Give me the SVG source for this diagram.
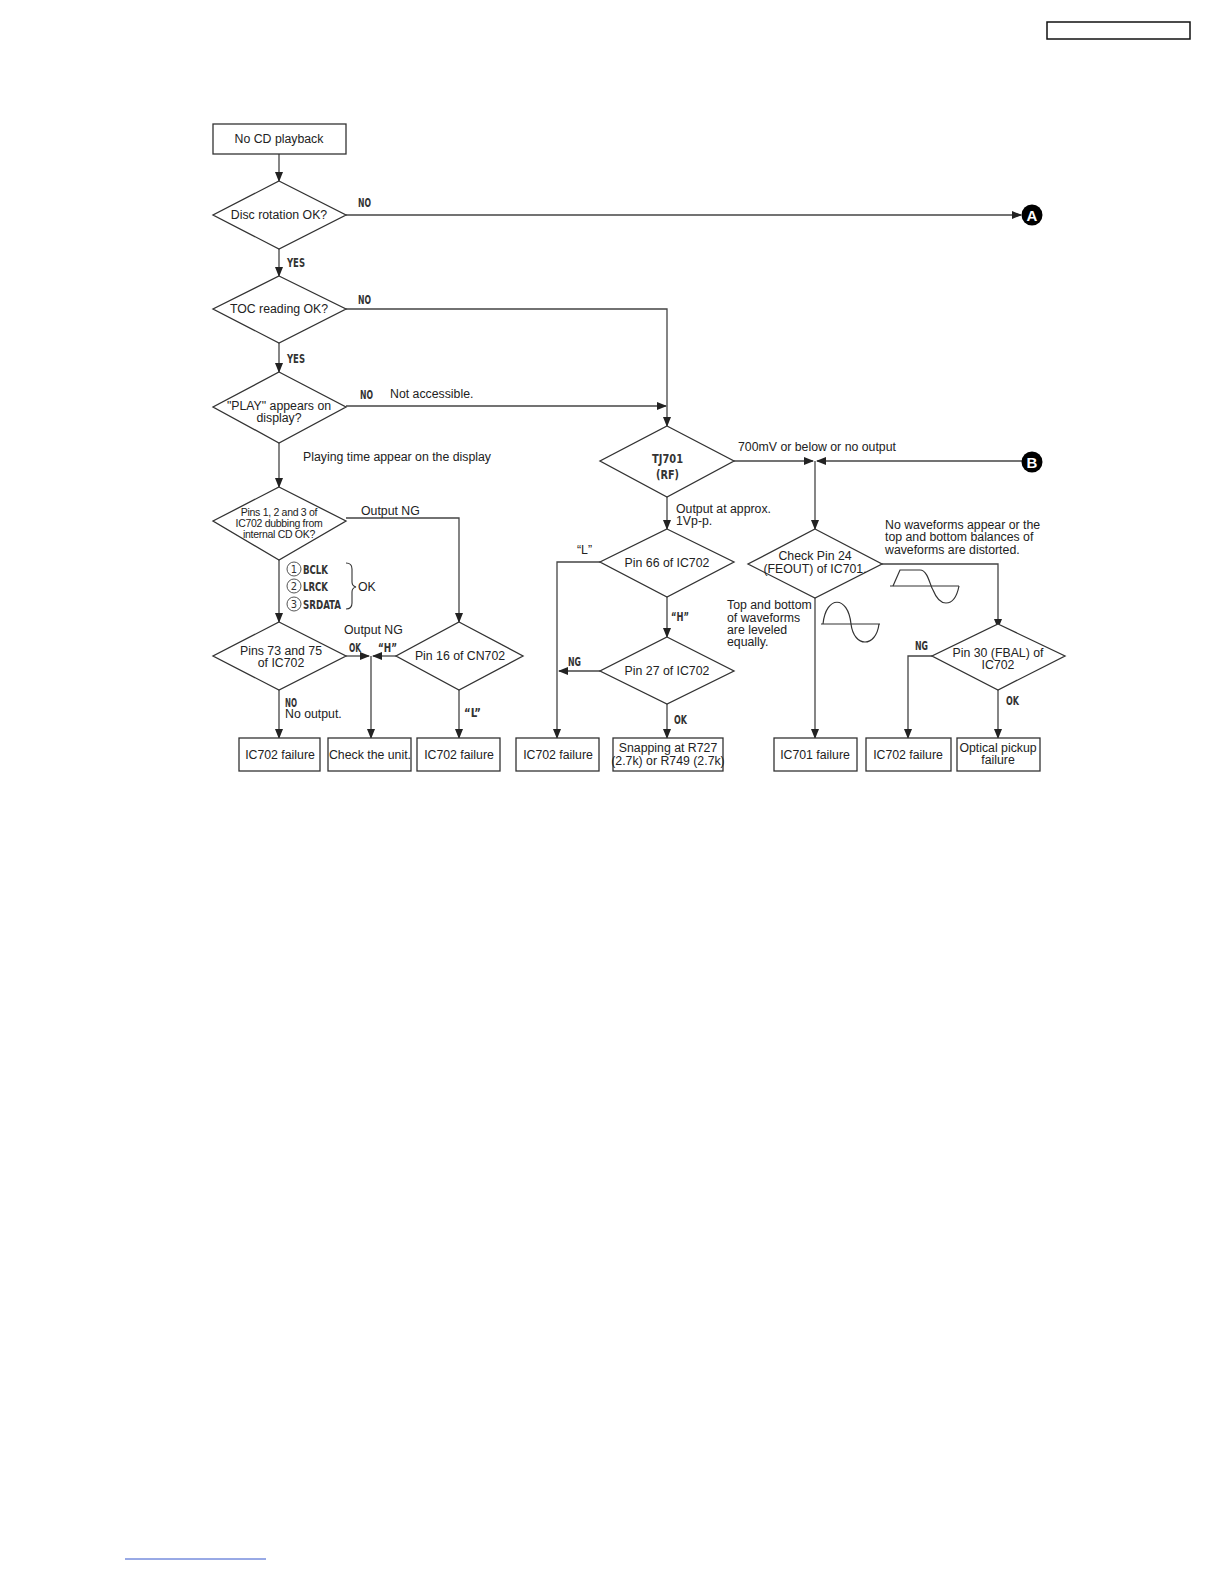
<svg xmlns="http://www.w3.org/2000/svg" width="1224" height="1584" viewBox="0 0 1224 1584">
<defs>
<marker id="ah" markerWidth="10" markerHeight="8" refX="9" refY="4" orient="auto" markerUnits="userSpaceOnUse">
<path d="M0,0 L10,4 L0,8 Z" fill="#222"/>
</marker>
<style>
.box{fill:#fff;stroke:#333;stroke-width:1.3}
.dia{fill:#fff;stroke:#333;stroke-width:1.3}
.ln{fill:none;stroke:#444;stroke-width:1.3}
.t{font-family:"Liberation Sans",Arial,sans-serif;font-size:12.3px;fill:#222;text-anchor:middle}
.tl{font-family:"Liberation Sans",Arial,sans-serif;font-size:12.3px;fill:#222}
.ts{font-family:"Liberation Sans",Arial,sans-serif;font-size:10.5px;fill:#222;text-anchor:middle;letter-spacing:-0.3px}
.c{font-family:"DejaVu Sans Condensed","DejaVu Sans",sans-serif;font-size:13px;font-weight:bold;fill:#333}
.cm{font-family:"DejaVu Sans Condensed","DejaVu Sans",sans-serif;font-size:11px;fill:#333;text-anchor:middle}
.wv{fill:none;stroke:#333;stroke-width:1.2}
</style>
</defs>
<rect x="1047" y="22" width="143" height="17" fill="none" stroke="#111" stroke-width="1.5"/>
<line x1="125" y1="1559" x2="266" y2="1559" stroke="#3355cc" stroke-width="1"/>

<g id="connectors">
<line class="ln" x1="279" y1="154" x2="279" y2="181" marker-end="url(#ah)"/>
<line class="ln" x1="346" y1="215" x2="1021" y2="215" marker-end="url(#ah)"/>
<line class="ln" x1="279" y1="249" x2="279" y2="276" marker-end="url(#ah)"/>
<polyline class="ln" points="346,309 667,309 667,426" marker-end="url(#ah)"/>
<line class="ln" x1="279" y1="343" x2="279" y2="372" marker-end="url(#ah)"/>
<line class="ln" x1="346" y1="406" x2="666" y2="406" marker-end="url(#ah)"/>
<line class="ln" x1="279" y1="443" x2="279" y2="487" marker-end="url(#ah)"/>
<polyline class="ln" points="346,518 459,518 459,622" marker-end="url(#ah)"/>
<line class="ln" x1="279" y1="560" x2="279" y2="622" marker-end="url(#ah)"/>
<line class="ln" x1="346" y1="656" x2="369" y2="656" marker-end="url(#ah)"/>
<line class="ln" x1="396" y1="656" x2="373" y2="656" marker-end="url(#ah)"/>
<line class="ln" x1="371" y1="656" x2="371" y2="738" marker-end="url(#ah)"/>
<line class="ln" x1="279" y1="690" x2="279" y2="738" marker-end="url(#ah)"/>
<line class="ln" x1="459" y1="690" x2="459" y2="738" marker-end="url(#ah)"/>
<line class="ln" x1="734" y1="461" x2="813" y2="461" marker-end="url(#ah)"/>
<line class="ln" x1="1022" y1="461" x2="817" y2="461" marker-end="url(#ah)"/>
<line class="ln" x1="815" y1="461" x2="815" y2="529" marker-end="url(#ah)"/>
<line class="ln" x1="667" y1="497" x2="667" y2="529" marker-end="url(#ah)"/>
<polyline class="ln" points="600,562 557,562 557,738" marker-end="url(#ah)"/>
<line class="ln" x1="667" y1="597" x2="667" y2="637" marker-end="url(#ah)"/>
<line class="ln" x1="600" y1="671" x2="559" y2="671" marker-end="url(#ah)"/>
<line class="ln" x1="667" y1="704" x2="667" y2="738" marker-end="url(#ah)"/>
<polyline class="ln" points="882,564 998,564 998,628" marker-end="url(#ah)"/>
<line class="ln" x1="815" y1="598" x2="815" y2="738" marker-end="url(#ah)"/>
<polyline class="ln" points="932,656 908,656 908,738" marker-end="url(#ah)"/>
<line class="ln" x1="998" y1="690" x2="998" y2="738" marker-end="url(#ah)"/>
</g>

<g id="labels">
<text class="c" x="358" y="207" textLength="13" lengthAdjust="spacingAndGlyphs">NO</text>
<text class="c" x="287" y="267" textLength="18" lengthAdjust="spacingAndGlyphs">YES</text>
<text class="c" x="358" y="304" textLength="13" lengthAdjust="spacingAndGlyphs">NO</text>
<text class="c" x="287" y="363" textLength="18" lengthAdjust="spacingAndGlyphs">YES</text>
<text class="c" x="360" y="399" textLength="13" lengthAdjust="spacingAndGlyphs">NO</text>
<text class="tl" x="390" y="398">Not accessible.</text>
<text class="tl" x="303" y="461">Playing time appear on the display</text>
<text class="tl" x="361" y="515">Output NG</text>
<text class="tl" x="344" y="634">Output NG</text>
<text class="c" x="349" y="652" textLength="12" lengthAdjust="spacingAndGlyphs">OK</text>
<text class="c" x="378" y="652" textLength="19" lengthAdjust="spacingAndGlyphs">“H”</text>
<text class="c" x="285" y="707" textLength="12" lengthAdjust="spacingAndGlyphs">NO</text>
<text class="tl" x="285" y="718">No output.</text>
<text class="c" x="464" y="717" textLength="17" lengthAdjust="spacingAndGlyphs">“L”</text>
<text class="tl" x="738" y="451">700mV or below or no output</text>
<text class="tl" x="676" y="513">Output at approx.</text>
<text class="tl" x="676" y="525">1Vp-p.</text>
<text class="tl" x="577" y="554">“L”</text>
<text class="c" x="671" y="621" textLength="18" lengthAdjust="spacingAndGlyphs">“H”</text>
<text class="c" x="568" y="666" textLength="13" lengthAdjust="spacingAndGlyphs">NG</text>
<text class="c" x="674" y="724" textLength="13" lengthAdjust="spacingAndGlyphs">OK</text>
<text class="tl" x="885" y="529">No waveforms appear or the</text>
<text class="tl" x="885" y="541">top and bottom balances of</text>
<text class="tl" x="885" y="554">waveforms are distorted.</text>
<text class="tl" x="727" y="609">Top and bottom</text>
<text class="tl" x="727" y="622">of waveforms</text>
<text class="tl" x="727" y="634">are leveled</text>
<text class="tl" x="727" y="646">equally.</text>
<text class="c" x="915" y="650" textLength="13" lengthAdjust="spacingAndGlyphs">NG</text>
<text class="c" x="1006" y="705" textLength="13" lengthAdjust="spacingAndGlyphs">OK</text>
</g>

<g id="signals">
<circle cx="294" cy="569" r="7" fill="none" stroke="#555" stroke-width="1"/>
<text class="cm" x="294" y="573">1</text>
<text class="c" x="303" y="574" textLength="25" lengthAdjust="spacingAndGlyphs">BCLK</text>
<circle cx="294" cy="586" r="7" fill="none" stroke="#555" stroke-width="1"/>
<text class="cm" x="294" y="590">2</text>
<text class="c" x="303" y="591" textLength="25" lengthAdjust="spacingAndGlyphs">LRCK</text>
<circle cx="294" cy="604" r="7" fill="none" stroke="#555" stroke-width="1"/>
<text class="cm" x="294" y="608">3</text>
<text class="c" x="303" y="609" textLength="38" lengthAdjust="spacingAndGlyphs">SRDATA</text>
<path d="M346,563 Q352,563 352,569 L352,582 Q352,586 356,587 Q352,588 352,592 L352,603 Q352,609 346,609" fill="none" stroke="#333" stroke-width="1.1"/>
<text class="tl" x="358" y="591">OK</text>
</g>

<g id="waves">
<line class="wv" x1="890" y1="586" x2="959" y2="586"/>
<path class="wv" d="M893,586 L900,570 L920,570 C928,570 930,586 933,590 C937,600 942,603 946,603 C953,603 957,596 959,586"/>
<line class="wv" x1="821" y1="624" x2="880" y2="624"/>
<path class="wv" d="M823,624 C826,595 848,595 851,624 C854,648 876,648 879,624"/>
</g>

<g id="start"><rect class="box" x="213" y="124" width="133" height="30"/><text class="t" x="279" y="143">No CD playback</text></g>

<g id="d_disc"><polygon class="dia" points="279,181 346,215 279,249 213,215"/><text class="t" x="279" y="219">Disc rotation OK?</text></g>
<g id="d_toc"><polygon class="dia" points="279,276 346,309 279,343 213,309"/><text class="t" x="279" y="313">TOC reading OK?</text></g>
<g id="d_play"><polygon class="dia" points="279,372 346,407 279,443 213,407"/><text class="t" x="279" y="410">"PLAY" appears on</text><text class="t" x="279" y="422">display?</text></g>
<g id="d_pins123"><polygon class="dia" points="279,487 346,521 279,560 213,521"/><text class="ts" x="279" y="516">Pins 1, 2 and 3 of</text><text class="ts" x="279" y="527">IC702 dubbing from</text><text class="ts" x="279" y="538">internal CD OK?</text></g>
<g id="d_pins7375"><polygon class="dia" points="279,622 346,656 279,690 213,656"/><text class="t" x="281" y="655">Pins 73 and 75</text><text class="t" x="281" y="667">of IC702</text></g>
<g id="d_pin16"><polygon class="dia" points="459,622 523,656 459,690 396,656"/><text class="t" x="460" y="660">Pin 16 of CN702</text></g>

<g id="b_ic702a"><rect class="box" x="239" y="738" width="81" height="33"/><text class="t" x="280" y="759">IC702 failure</text></g>
<g id="b_check"><rect class="box" x="328" y="738" width="83" height="33"/><text class="t" x="370" y="759">Check the unit.</text></g>
<g id="b_ic702b"><rect class="box" x="417" y="738" width="83" height="33"/><text class="t" x="459" y="759">IC702 failure</text></g>

<g id="d_tj701"><polygon class="dia" points="667,426 734,461 667,497 600,461"/><text class="c" x="652" y="463" textLength="31" lengthAdjust="spacingAndGlyphs">TJ701</text><text class="c" x="656" y="479" textLength="23" lengthAdjust="spacingAndGlyphs">(RF)</text></g>
<g id="d_pin66"><polygon class="dia" points="667,529 734,562 667,597 600,562"/><text class="t" x="667" y="567">Pin 66 of IC702</text></g>
<g id="d_pin27"><polygon class="dia" points="667,637 734,671 667,704 600,671"/><text class="t" x="667" y="675">Pin 27 of IC702</text></g>
<g id="b_ic702c"><rect class="box" x="516" y="738" width="83" height="33"/><text class="t" x="558" y="759">IC702 failure</text></g>
<g id="b_snap"><rect class="box" x="613" y="738" width="110" height="33"/><text class="t" x="668" y="752">Snapping at R727</text><text class="t" x="668" y="765">(2.7k) or R749 (2.7k)</text></g>

<g id="d_pin24"><polygon class="dia" points="815,529 882,564 815,598 748,564"/><text class="t" x="815" y="560">Check Pin 24</text><text class="t" x="815" y="573">(FEOUT) of IC701.</text></g>
<g id="d_pin30"><polygon class="dia" points="998,624 1065,656 998,690 932,656"/><text class="t" x="998" y="657">Pin 30 (FBAL) of</text><text class="t" x="998" y="669">IC702</text></g>
<g id="b_ic701"><rect class="box" x="774" y="738" width="83" height="33"/><text class="t" x="815" y="759">IC701 failure</text></g>
<g id="b_ic702d"><rect class="box" x="866" y="738" width="85" height="33"/><text class="t" x="908" y="759">IC702 failure</text></g>
<g id="b_optical"><rect class="box" x="957" y="738" width="83" height="33"/><text class="t" x="998" y="752">Optical pickup</text><text class="t" x="998" y="764">failure</text></g>

<g id="conn_A"><circle cx="1032" cy="215" r="10.5" fill="#000"/><text x="1032" y="220.5" font-family="Liberation Sans,Arial,sans-serif" font-weight="bold" font-size="15" fill="#fff" text-anchor="middle">A</text></g>
<g id="conn_B"><circle cx="1032" cy="462" r="10.5" fill="#000"/><text x="1032" y="467.5" font-family="Liberation Sans,Arial,sans-serif" font-weight="bold" font-size="15" fill="#fff" text-anchor="middle">B</text></g>
</svg>
